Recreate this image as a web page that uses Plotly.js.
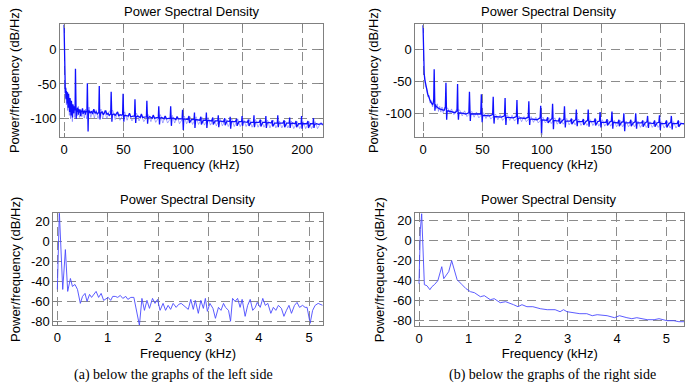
<!DOCTYPE html>
<html><head><meta charset="utf-8">
<script src="https://cdn.plot.ly/plotly-3.0.1.min.js"></script>
<style>html,body{margin:0;padding:0;background:#fff}</style>
</head><body><div id="chart" style="width:694px;height:390px"></div>
<script>
// ---- data: [frequency (kHz), PSD (dB/Hz)] ----
const leftTopPsd = [[0,35],[0.15,10],[0.3,-30],[0.5,-52],[0.8,-58],[1.1,-63],[1.4,-56],[1.7,-72],[2.0,-60],[2.3,-66],[2.6,-78],[2.9,-62],[3.2,-70],[3.5,-84],[3.8,-64],[4.1,-74],[4.4,-68],[4.7,-90],[5.0,-70],[5.3,-78],[5.6,-72],[5.9,-95],[6.2,-74],[6.5,-84],[6.8,-76],[7.1,-98],[7.4,-79],[7.7,-86],[8.0,-80],[8.3,-92],[8.6,-82],[9.0,-88],[9.3,-83],[9.6,-28],[9.9,-80],[10.2,-100],[10.5,-85],[11,-90],[11.5,-84],[12,-94],[12.5,-86],[13,-91],[13.5,-87],[14,-96],[14.5,-88],[15,-90],[15.5,-85],[16,-93],[16.5,-89],[17,-91],[17.5,-88],[18,-94],[18.5,-89],[19.2,-90],[19.6,-49],[19.9,-85],[20.2,-118],[20.5,-92],[21,-88],[22,-92],[23,-89],[24,-93],[25,-86],[26,-92],[27,-90],[28,-93],[29.2,-91],[29.6,-53],[29.9,-88],[30.2,-101],[30.6,-92],[32,-90],[33,-94],[34,-91],[35,-88],[36,-94],[37,-92],[38,-95],[39.2,-93],[39.6,-61],[39.9,-90],[40.2,-104],[40.6,-94],[42,-93],[43,-95],[44,-92],[45,-90],[46,-96],[47,-94],[48,-95],[49.2,-94],[49.6,-64],[49.9,-92],[50.2,-104],[50.6,-95],[52,-95],[54,-96],[55,-92],[56,-97],[58,-96],[59.2,-96],[59.6,-72],[59.9,-94],[60.2,-106],[60.6,-97],[62,-96],[64,-98],[65,-93],[66,-98],[68,-97],[69.2,-97],[69.6,-74],[69.9,-95],[70.2,-107],[70.6,-98],[72,-97],[74,-99],[75,-95],[76,-99],[78,-98],[79.2,-98],[79.6,-82],[79.9,-96],[80.2,-108],[80.6,-99],[82,-98],[84,-100],[85,-96],[86,-100],[88,-99],[89.2,-99],[89.6,-82],[89.9,-97],[90.2,-110],[90.6,-99],[92,-99],[94,-101],[95,-97],[96,-100],[98,-100],[99.2,-100],[99.6,-87],[99.9,-98],[100.2,-116],[100.6,-100],[102,-100],[104,-101],[105,-96],[105.4,-106],[107,-101],[109.2,-101],[109.6,-91],[110,-113],[110.6,-101],[112,-101],[114,-102],[115,-97],[115.4,-108],[117,-102],[119.2,-102],[119.6,-91],[120,-113],[120.6,-102],[122,-102],[124,-103],[125,-98],[125.4,-108],[127,-103],[129.2,-103],[129.6,-95],[130,-112],[130.6,-103],[132,-103],[134,-104],[135,-99],[135.4,-109],[137,-103],[139.2,-104],[139.6,-97],[140,-114],[140.6,-104],[142,-104],[144,-104],[145,-100],[145.4,-110],[147,-104],[149.2,-104],[149.6,-96],[150,-110],[150.6,-104],[152,-104],[154,-105],[155,-101],[155.4,-110],[157,-105],[159.2,-105],[159.6,-95],[160,-112],[160.6,-105],[162,-105],[164,-105],[165,-101],[165.4,-111],[167,-105],[169.2,-105],[169.6,-96],[170,-113],[170.6,-106],[172,-105],[174,-106],[175,-102],[175.4,-111],[177,-106],[179.2,-106],[179.6,-95],[180,-112],[180.6,-106],[182,-106],[184,-106],[185,-102],[185.4,-112],[187,-106],[189.2,-106],[189.6,-98],[190,-113],[190.6,-107],[192,-106],[194,-107],[195,-103],[195.4,-112],[197,-107],[199.2,-107],[199.6,-96],[200,-114],[200.6,-107],[202,-107],[204,-107],[205,-103],[205.4,-113],[207,-107],[209.2,-107],[209.6,-99],[210,-113],[210.6,-108],[212,-107],[214,-108],[216,-107],[217.6,-108]];

const leftTopNoise = [[0.5,-45],[1,-70],[1.5,-55],[2,-80],[2.5,-62],[3,-88],[3.5,-66],[4,-75],[4.5,-95],[5,-72],[5.5,-100],[6,-76],[6.5,-86],[7,-104],[7.5,-80],[8,-92],[8.5,-84],[9,-98],[10,-84],[11,-96],[12,-82],[13,-98],[14,-86],[15,-97],[16,-87],[17,-99],[18,-86],[19,-100],[21,-83],[22.5,-98],[24,-88],[25.5,-99],[27,-87],[28.5,-100],[31,-86],[32.5,-100],[34,-88],[36,-100],[38,-89],[41,-88],[43,-101],[45,-91],[47,-102],[51,-90],[53,-102],[55,-92],[57,-103],[61,-92],[63,-103],[65,-94],[67,-104],[71,-94],[73,-104],[75,-94],[77,-105],[81,-94],[83,-106],[85,-96],[87,-106],[91,-95],[93,-106],[95,-96],[97,-107],[101,-96],[103,-107],[106,-97],[108,-108],[111,-97],[113,-108],[116,-98],[118,-109],[121,-98],[123,-109],[126,-99],[128,-110],[131,-99],[133,-110],[136,-100],[138,-111],[141,-100],[143,-111],[146,-100],[148,-111],[151,-101],[153,-111],[156,-101],[158,-112],[161,-101],[163,-112],[166,-102],[168,-112],[171,-102],[173,-113],[176,-102],[178,-113],[181,-103],[183,-113],[186,-103],[188,-113],[191,-103],[193,-114],[196,-104],[198,-114],[201,-104],[203,-114],[206,-104],[208,-114],[211,-104],[213,-114],[216,-105],[217.6,-110]];

const rightTopPsd = [[0,38],[0.2,10],[0.4,-15],[0.7,-28],[1.0,-38],[1.5,-47],[2.0,-53],[2.5,-58],[3.0,-63],[3.5,-66],[4.0,-70],[4.5,-72],[5.0,-76],[5.5,-78],[6.0,-80],[6.5,-82],[7.0,-84],[7.5,-85],[8.0,-86],[8.6,-84],[9.0,-78],[9.4,-31],[9.7,-74],[10.0,-96],[10.4,-86],[11,-89],[12,-91],[13,-92],[14,-93],[15,-94],[16,-94],[17,-95],[18,-95],[18.8,-90],[19.3,-52],[19.6,-88],[19.9,-110],[20.3,-97],[21,-96],[23,-97],[25,-98],[27,-99],[28.6,-96],[29.1,-54],[29.4,-92],[29.8,-110],[30.2,-99],[32,-99],[34,-100],[36,-101],[38.6,-99],[39.1,-66],[39.4,-96],[39.8,-112],[40.2,-101],[42,-101],[44,-102],[46,-102],[48.6,-101],[49.1,-70],[49.4,-98],[49.8,-114],[50.2,-103],[52,-103],[54,-104],[56,-104],[58.6,-102],[59.1,-74],[59.4,-98],[59.8,-116],[60.2,-105],[62,-105],[64,-105],[66,-106],[68.6,-104],[69.1,-76],[69.4,-100],[69.8,-118],[70.2,-106],[72,-106],[74,-107],[76,-107],[78.6,-105],[79.1,-79],[79.4,-101],[79.8,-117],[80.2,-108],[82,-107],[84,-108],[86,-108],[88.6,-106],[89.1,-81],[89.4,-102],[89.8,-118],[90.2,-109],[92,-109],[94,-109],[96,-110],[98.6,-107],[99.1,-88],[99.4,-104],[99.8,-134],[100.2,-110],[102,-110],[104,-111],[105,-106],[105.3,-115],[107,-111],[108.6,-108],[109.1,-85],[109.4,-105],[109.8,-125],[110.2,-111],[112,-111],[114,-112],[115,-107],[115.3,-116],[117,-112],[118.6,-109],[119.1,-89],[119.4,-106],[119.8,-122],[120.2,-112],[122,-112],[124,-112],[125,-108],[125.3,-117],[127,-112],[128.6,-110],[129.1,-94],[129.4,-108],[129.8,-120],[130.2,-113],[132,-113],[134,-113],[135,-109],[135.3,-118],[137,-113],[138.6,-111],[139.1,-94],[139.4,-108],[139.8,-121],[140.2,-113],[142,-113],[144,-113],[145,-108],[145.3,-119],[147,-113],[148.6,-112],[149.1,-98],[149.4,-110],[149.8,-122],[150.2,-114],[152,-114],[154,-114],[155,-109],[155.3,-119],[157,-114],[158.6,-112],[159.1,-97],[159.4,-109],[159.8,-124],[160.2,-114],[162,-114],[164,-115],[165,-110],[165.3,-120],[167,-114],[168.6,-113],[169.1,-100],[169.4,-110],[169.8,-128],[170.2,-115],[172,-115],[174,-115],[175,-110],[175.3,-120],[177,-115],[178.6,-113],[179.1,-100],[179.4,-110],[179.8,-124],[180.2,-115],[182,-115],[184,-115],[185,-111],[185.3,-121],[187,-115],[188.6,-113],[189.1,-104],[189.4,-112],[189.8,-123],[190.2,-115],[192,-115],[194,-116],[195,-111],[195.3,-121],[197,-115],[198.6,-114],[199.1,-103],[199.4,-112],[199.8,-126],[200.2,-116],[202,-116],[204,-116],[205,-111],[205.3,-122],[207,-116],[208.6,-114],[209.1,-104],[209.4,-112],[209.8,-125],[210.2,-116],[212,-116],[214,-116],[215,-111],[215.3,-121],[217,-116],[220,-116]];

const rightTopNoise = [[1.2,-38],[2,-58],[3,-60],[4,-74],[5,-72],[6,-84],[7,-80],[8,-90],[9,-84],[11,-93],[12,-85],[13,-97],[14,-89],[15,-98],[16,-90],[17,-99],[18,-91],[21,-92],[22.5,-101],[24,-93],[26,-102],[28,-94],[31,-95],[33,-104],[35,-96],[37,-105],[41,-97],[43,-106],[45,-98],[47,-107],[51,-99],[53,-108],[55,-100],[57,-109],[61,-101],[63,-110],[65,-102],[67,-111],[71,-102],[73,-111],[75,-103],[77,-112],[81,-104],[83,-113],[85,-105],[87,-113],[91,-105],[93,-114],[95,-106],[97,-115],[101,-106],[103,-115],[106,-107],[108,-116],[111,-107],[113,-117],[116,-108],[118,-117],[121,-108],[123,-118],[126,-109],[128,-118],[131,-109],[133,-119],[136,-110],[138,-119],[141,-110],[143,-119],[146,-110],[148,-120],[151,-110],[153,-120],[156,-111],[158,-120],[161,-111],[163,-121],[166,-111],[168,-121],[171,-112],[173,-121],[176,-112],[178,-121],[181,-112],[183,-122],[186,-112],[188,-122],[191,-113],[193,-122],[196,-113],[198,-122],[201,-113],[203,-123],[206,-113],[208,-123],[211,-113],[213,-123],[216,-113],[220,-118]];

const leftBottomPsd = [[0,-48],[0.04,30],[0.107,-48],[0.16,-8],[0.206,-50],[0.26,-37],[0.3,-45],[0.35,-43],[0.4,-48],[0.457,-62],[0.5,-55],[0.55,-52],[0.59,-60],[0.64,-53],[0.68,-56],[0.73,-53],[0.77,-50],[0.82,-56],[0.87,-52],[0.92,-59],[0.97,-57],[1.01,-56],[1.06,-59],[1.1,-55],[1.15,-55],[1.2,-56],[1.25,-54],[1.3,-57],[1.36,-55],[1.4,-58],[1.46,-56],[1.52,-56],[1.63,-84],[1.68,-57],[1.73,-69],[1.78,-59],[1.83,-67],[1.89,-57],[1.94,-62],[1.99,-58],[2.04,-69],[2.1,-62],[2.15,-69],[2.2,-64],[2.25,-68],[2.3,-62],[2.36,-66],[2.41,-63],[2.46,-62],[2.53,-65],[2.6,-68],[2.65,-58],[2.7,-68],[2.74,-59],[2.8,-72],[2.85,-59],[2.9,-67],[2.94,-57],[2.98,-70],[3.03,-62],[3.09,-67],[3.14,-77],[3.2,-66],[3.25,-69],[3.3,-62],[3.34,-66],[3.4,-69],[3.44,-80],[3.48,-57],[3.53,-60],[3.58,-57],[3.63,-66],[3.67,-58],[3.73,-75],[3.78,-64],[3.83,-58],[3.88,-69],[3.93,-66],[3.97,-61],[4.03,-66],[4.08,-57],[4.13,-64],[4.18,-62],[4.24,-72],[4.29,-66],[4.34,-69],[4.39,-64],[4.45,-67],[4.5,-75],[4.55,-69],[4.6,-64],[4.65,-72],[4.71,-64],[4.76,-61],[4.81,-66],[4.87,-64],[4.92,-66],[4.96,-66],[5.02,-82],[5.07,-69],[5.12,-64],[5.18,-62],[5.27,-64]];

const rightBottomPsd = [[0,-43],[0.027,11],[0.054,27],[0.08,-19],[0.108,-44],[0.16,-45],[0.22,-49],[0.26,-46],[0.31,-44],[0.38,-40],[0.42,-34],[0.46,-26],[0.5,-38],[0.545,-35],[0.6,-31],[0.66,-20],[0.71,-28],[0.77,-39],[0.87,-44],[0.95,-48],[1.04,-51],[1.12,-52],[1.24,-56],[1.32,-55],[1.44,-59],[1.52,-58],[1.64,-62],[1.75,-61],[1.91,-64],[2.0,-66],[2.08,-64],[2.18,-66],[2.3,-66],[2.45,-68],[2.59,-69],[2.75,-69],[2.85,-71],[2.92,-69],[2.99,-71],[3.1,-72],[3.25,-73],[3.39,-73],[3.5,-75],[3.6,-74],[3.8,-75],[3.95,-77],[4.05,-75],[4.2,-77],[4.3,-78],[4.4,-77],[4.61,-79],[4.75,-79],[4.85,-78],[5.01,-80],[5.15,-80],[5.25,-81],[5.36,-81]];

// tick labels
const topXTicks = [0, 50, 100, 150, 200];
const topYTicks = [-100, -50, 0];
const topYText = ['-100', '-50', '0'];
const botXTicks = [0, 1, 2, 3, 4, 5];
const botYTicks = [-80, -60, -40, -20, 0, 20];
const botYText = ['-80', '-60', '-40', '-20', '0', '20'];

const plotTitle = 'Power Spectral Density';
const xTitle = 'Frequency (kHz)';
const yTitle = 'Power/frequency (dB/Hz)';
const captionA = '(a) below the graphs of the left side';
const captionB = '(b) below the graphs of the right side';

// ---- drawing ----
const W = 694, H = 390;
const sans = 'Liberation Sans, Arial, Helvetica, sans-serif';
const baseFont = {family: sans, size: 13, color: '#000'};

function trace(pts, xa, ya, color, width) {
  return {x: pts.map(p => p[0]), y: pts.map(p => p[1]), xaxis: xa, yaxis: ya,
    type: 'scatter', mode: 'lines', line: {color: color, width: width},
    hoverinfo: 'x+y', showlegend: false};
}

const lightBlue = 'rgba(110,110,255,0.6)';
const data = [
  trace(leftTopNoise, 'x', 'y', lightBlue, 1),
  trace(leftTopPsd, 'x', 'y', '#1010ff', 1.3),
  trace(rightTopNoise, 'x2', 'y2', lightBlue, 1),
  trace(rightTopPsd, 'x2', 'y2', '#1010ff', 1.3),
  trace(leftBottomPsd, 'x3', 'y3', '#4a4aff', 0.9),
  trace(rightBottomPsd, 'x4', 'y4', '#4a4aff', 0.9)
];

function px(x0, x1) { return [x0 / W, x1 / W]; }
function py(top, bottom) { return [1 - bottom / H, 1 - top / H]; }

function axis(extra) {
  return Object.assign({
    showline: true, mirror: 'ticks', linecolor: '#808080', linewidth: 1,
    ticks: 'inside', ticklen: 4, tickcolor: '#808080', tickwidth: 1,
    showgrid: true, gridcolor: '#8c8c8c', gridwidth: 1, griddash: '9px,5px',
    zeroline: false, tickfont: baseFont, automargin: false, fixedrange: true,
    tickmode: 'array'
  }, extra);
}

const layout = {
  width: W, height: H, margin: {l: 0, r: 0, t: 0, b: 0},
  paper_bgcolor: '#fff', plot_bgcolor: '#fff', showlegend: false,
  font: baseFont,
  xaxis: axis({domain: px(60, 323), anchor: 'y', range: [-3.4, 217.6], tickvals: topXTicks,
    title: {text: xTitle, font: baseFont, standoff: 4}}),
  yaxis: axis({domain: py(24, 137), anchor: 'x', range: [-126, 36], tickvals: topYTicks, ticktext: topYText,
    title: {text: yTitle, font: baseFont, standoff: 7}}),
  xaxis2: axis({domain: px(415.3, 684.3), anchor: 'y2', range: [-6.5, 220], tickvals: topXTicks,
    title: {text: xTitle, font: baseFont, standoff: 4}}),
  yaxis2: axis({domain: py(24, 137), anchor: 'x2', range: [-137, 40], tickvals: topYTicks, ticktext: topYText,
    title: {text: yTitle, font: baseFont, standoff: 4}}),
  xaxis3: axis({domain: px(53.3, 322.7), anchor: 'y3', range: [-0.08, 5.27], tickvals: botXTicks,
    title: {text: xTitle, font: baseFont, standoff: 4}}),
  yaxis3: axis({domain: py(213.3, 325.3), anchor: 'x3', range: [-84, 28.4], tickvals: botYTicks, ticktext: botYText,
    title: {text: yTitle, font: baseFont, standoff: 7}}),
  xaxis4: axis({domain: px(415.3, 684.3), anchor: 'y4', range: [-0.075, 5.36], tickvals: botXTicks,
    title: {text: xTitle, font: baseFont, standoff: 4}}),
  yaxis4: axis({domain: py(213.3, 326), anchor: 'x4', range: [-85.3, 27.4], tickvals: botYTicks, ticktext: botYText,
    title: {text: yTitle, font: baseFont, standoff: 5}}),
  annotations: [
    {text: plotTitle, xref: 'paper', yref: 'paper', x: 191.5 / W, y: 1 - 11 / H, showarrow: false, font: baseFont, xanchor: 'center', yanchor: 'middle'},
    {text: plotTitle, xref: 'paper', yref: 'paper', x: 549 / W, y: 1 - 11 / H, showarrow: false, font: baseFont, xanchor: 'center', yanchor: 'middle'},
    {text: plotTitle, xref: 'paper', yref: 'paper', x: 188 / W, y: 1 - 199.5 / H, showarrow: false, font: baseFont, xanchor: 'center', yanchor: 'middle'},
    {text: plotTitle, xref: 'paper', yref: 'paper', x: 549 / W, y: 1 - 199.5 / H, showarrow: false, font: baseFont, xanchor: 'center', yanchor: 'middle'},
    {text: captionA, xref: 'paper', yref: 'paper', x: 173 / W, y: 1 - 375 / H, showarrow: false,
      font: {family: 'Liberation Serif, Times New Roman, serif', size: 14, color: '#000'}, xanchor: 'center', yanchor: 'middle'},
    {text: captionB, xref: 'paper', yref: 'paper', x: 552 / W, y: 1 - 375 / H, showarrow: false,
      font: {family: 'Liberation Serif, Times New Roman, serif', size: 14, color: '#000'}, xanchor: 'center', yanchor: 'middle'}
  ]
};

Plotly.newPlot('chart', data, layout, {displayModeBar: false, staticPlot: true});
</script></body></html>
